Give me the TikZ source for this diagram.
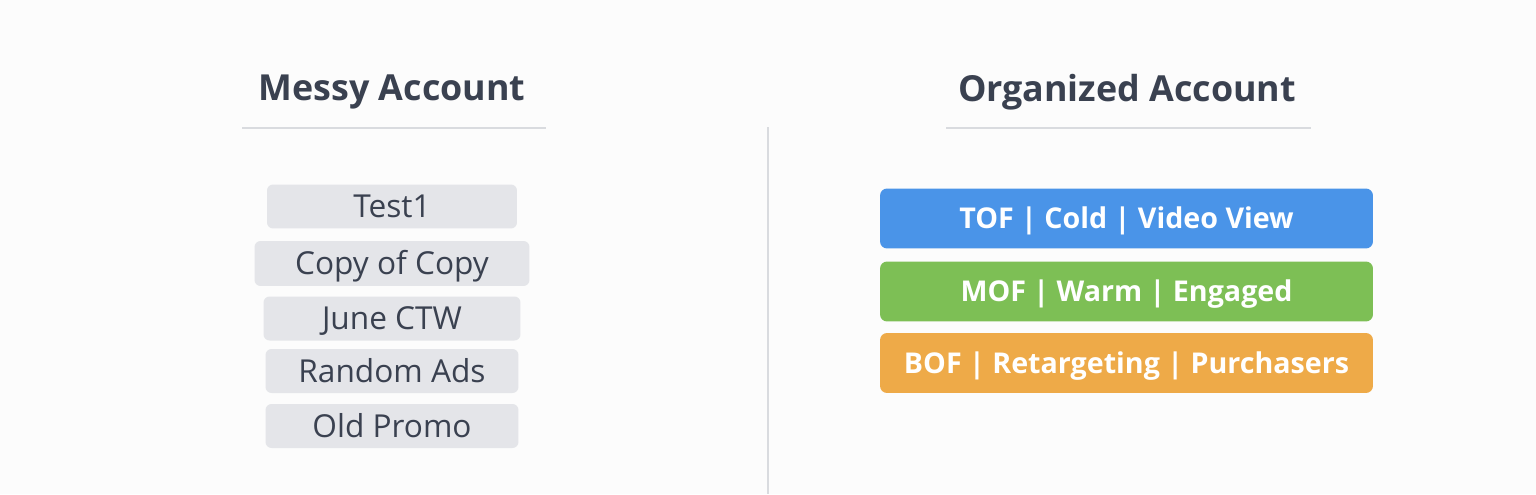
\documentclass[tikz,border=0pt]{standalone}
\usepackage{fontspec}
\setmainfont{Open Sans}
\usepackage{tikz}
\usetikzlibrary{positioning,calc}

\definecolor{inkgray}{HTML}{3A4150}
\definecolor{rulegray}{HTML}{D9DBDF}
\definecolor{boxgray}{HTML}{E4E5E9}
\definecolor{tofblue}{HTML}{4A94E8}
\definecolor{mofgreen}{HTML}{7DBF55}
\definecolor{boforange}{HTML}{EEAA48}

\tikzset{
  title/.style={text=inkgray,font=\fontsize{20.4}{24}\selectfont\bfseries},
  messybox/.style={shape=rectangle,fill=boxgray,rounded corners=0.12cm,minimum height=0.88cm,inner sep=0pt,text height=12.9pt,text depth=0pt,text=inkgray,font=\fontsize{18}{21}\selectfont},
  funnelbox/.style={shape=rectangle,rounded corners=0.14cm,minimum width=9.86cm,minimum height=1.2cm,inner sep=0pt,text height=11.6pt,text depth=0pt,text=white,font=\fontsize{16.3}{20}\selectfont\bfseries},
  rule/.style={draw=rulegray,line width=1.4pt}
}

\begin{document}
\begin{tikzpicture}[x=0.02cm,y=-0.02cm]
				\useasboundingbox (0,0) rectangle (1536,494);
				\fill[white!99!black] (0,0) rectangle (1536,494);

				% headings
				\node[title] (messy) at (392,92) {Messy Account};
				\node[title] (organized) at (1127,92) {Organized Account};
				\coordinate (mL) at (242,128);
				\coordinate (mR) at (546,128);
				\coordinate (oL) at (946,128);
				\coordinate (oR) at (1311,128);
				\coordinate (divtop) at (768,127);
				\coordinate (divbot) at (768,494);
				\draw[rule] (mL) -- (mR);
				\draw[rule] (oL) -- (oR);
				\draw[rule] (divtop) -- (divbot);

				% messy campaigns
				\node[messybox,minimum width=5cm] (test1) at (392,206.5) {Test1};
				\node[messybox,minimum width=5.5cm,minimum height=0.9cm] (copy) at (392,263.5) {Copy of Copy};
				\node[messybox,minimum width=5.14cm] (june) at (392,318.5) {June CTW};
				\node[messybox,minimum width=5.06cm] (random) at (392,371) {Random Ads};
				\node[messybox,minimum width=5.06cm] (promo) at (392,426) {Old Promo};

				% organized funnel
				\node[funnelbox,fill=tofblue] (tof) at (1126.5,218.5) {TOF | Cold | Video View};
				\node[funnelbox,fill=mofgreen] (mof) at (1126.5,291.5) {MOF | Warm | Engaged};
				\node[funnelbox,fill=boforange] (bof) at (1126.5,363) {BOF | Retargeting | Purchasers};
			\end{tikzpicture}
\end{document}
